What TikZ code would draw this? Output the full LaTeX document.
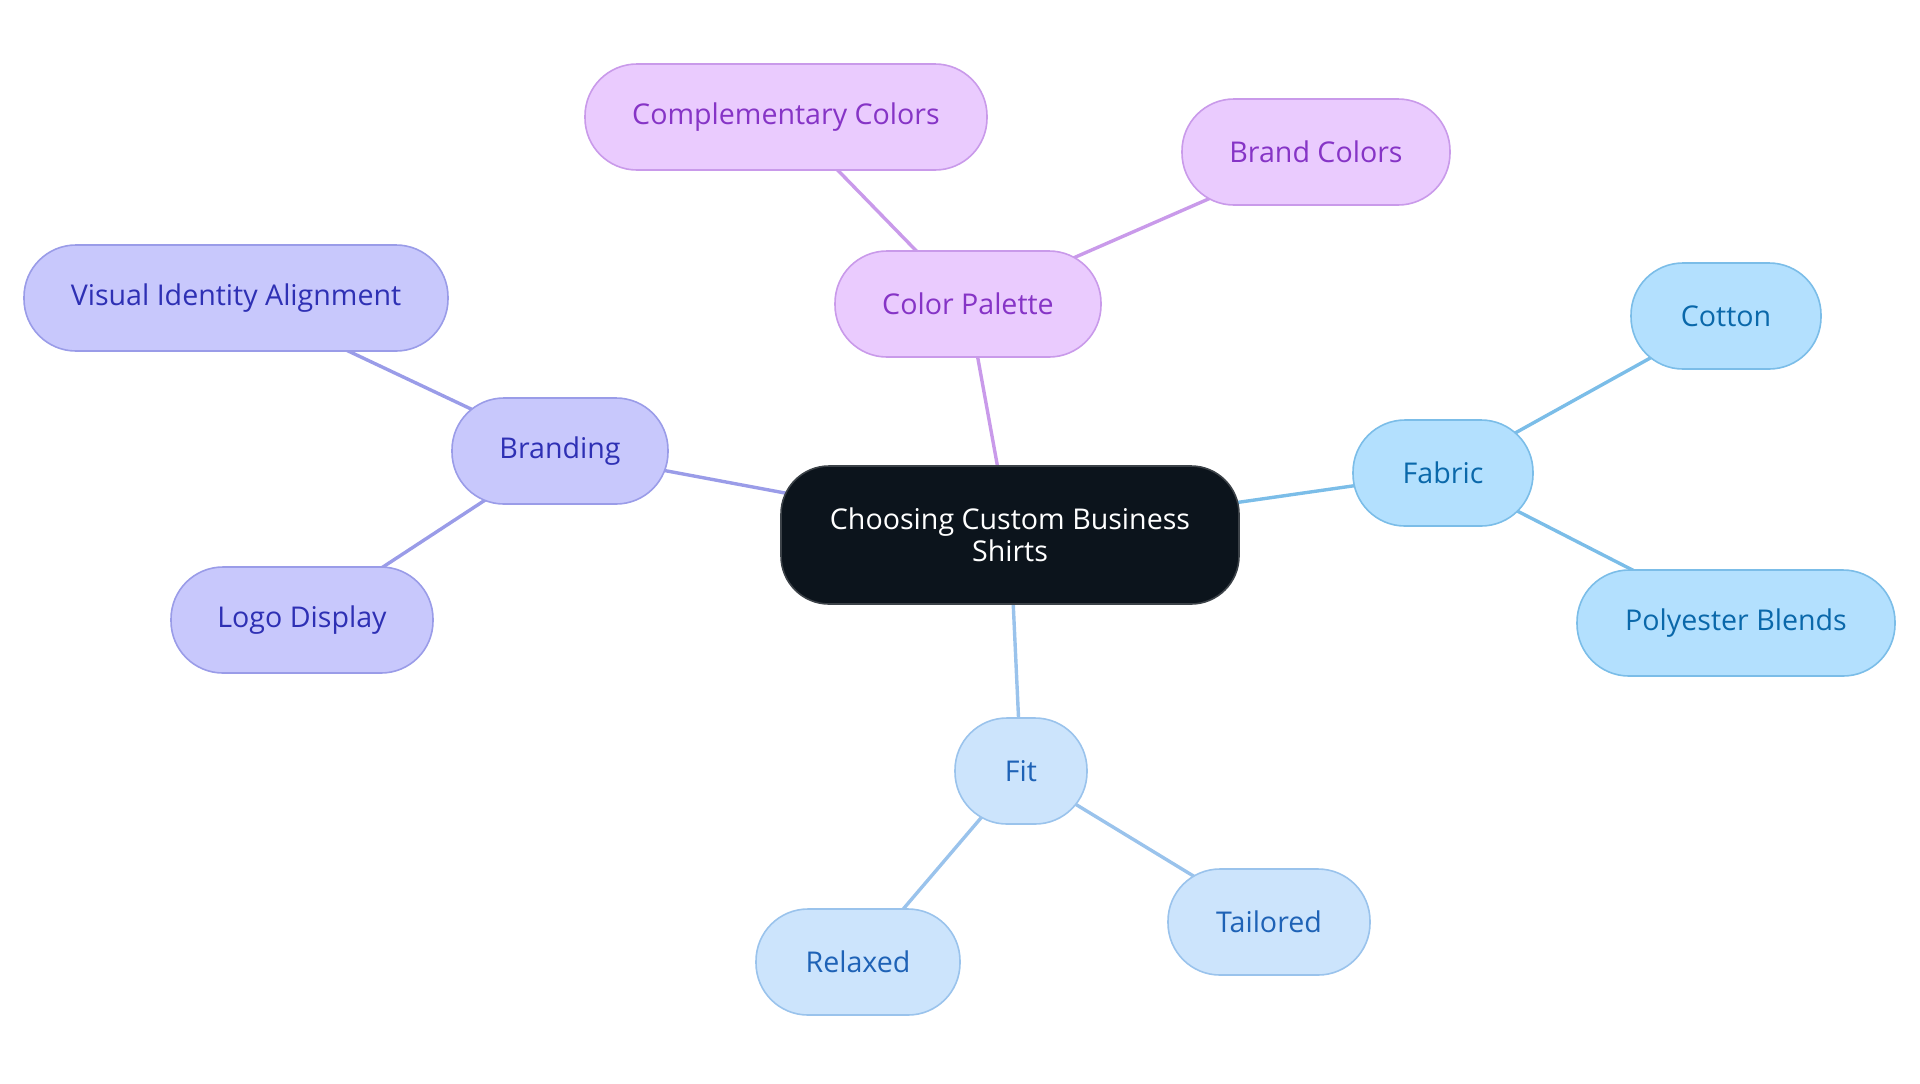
\documentclass[tikz,border=0pt]{standalone}
\usepackage{fontspec}
\setmainfont{Open Sans}
\usepackage{xcolor}
\usepackage{tikz}
\usetikzlibrary{backgrounds}

\definecolor{rootfill}{HTML}{0C141C}
\definecolor{rootline}{HTML}{3C4248}
\definecolor{brfill}{HTML}{C8C8FC}
\definecolor{brline}{HTML}{9A9CE8}
\definecolor{brtext}{HTML}{2E30B4}
\definecolor{cpfill}{HTML}{EACBFE}
\definecolor{cpline}{HTML}{C99AEA}
\definecolor{cptext}{HTML}{8634C6}
\definecolor{fbfill}{HTML}{B3E0FE}
\definecolor{fbline}{HTML}{7BBDE8}
\definecolor{fbtext}{HTML}{0A68AA}
\definecolor{ftfill}{HTML}{CCE4FC}
\definecolor{ftline}{HTML}{9AC3EC}
\definecolor{fttext}{HTML}{1E62B6}

\begin{document}
\begin{tikzpicture}[
  x=0.5pt, y=-0.5pt,
  leaf/.style={draw, line width=0.8pt, rectangle, rounded corners=26pt, minimum height=53pt, inner sep=0pt, font=\fontsize{14.3}{16}\selectfont, align=center},
  root/.style={leaf, fill=rootfill, draw=rootline, text=white, rounded corners=24pt, minimum height=69pt, minimum width=229pt},
  brand/.style={leaf, fill=brfill, draw=brline, text=brtext},
  palette/.style={leaf, fill=cpfill, draw=cpline, text=cptext},
  fabric/.style={leaf, fill=fbfill, draw=fbline, text=fbtext},
  fit/.style={leaf, fill=ftfill, draw=ftline, text=fttext},
  link/.style={line width=1.7pt}
]
\useasboundingbox (0,0) rectangle (1920,1083);

\node[root] (shirts) at (1010,535) {Choosing Custom Business\\Shirts};

\node[brand, minimum width=108pt] (branding) at (560,451) {Branding};
\node[brand, minimum width=212pt] (identity) at (236,298) {Visual Identity Alignment};
\node[brand, minimum width=131pt] (logo) at (302,620) {Logo Display};

\node[palette, minimum width=133pt] (palette) at (968,304) {Color Palette};
\node[palette, minimum width=201pt] (complementary) at (786,117) {Complementary Colors};
\node[palette, minimum width=134pt] (brandcol) at (1316,152) {Brand Colors};

\node[fabric, minimum width=90pt] (fabric) at (1443,473) {Fabric};
\node[fabric, minimum width=95pt] (cotton) at (1726,316) {Cotton};
\node[fabric, minimum width=159pt] (polyester) at (1736,623) {Polyester Blends};

\node[fit, minimum width=66pt] (fit) at (1021,771) {Fit};
\node[fit, minimum width=101pt] (tailored) at (1269,922) {Tailored};
\node[fit, minimum width=102pt] (relaxed) at (858,962) {Relaxed};

% connectors behind the boxes
\begin{scope}[on background layer]
\draw[link, brline] (shirts.center) -- (branding.center);
\draw[link, brline] (branding.center) -- (identity.center);
\draw[link, brline] (branding.center) -- (logo.center);
\draw[link, cpline] (shirts.center) -- (palette.center);
\draw[link, cpline] (palette.center) -- (complementary.center);
\draw[link, cpline] (palette.center) -- (brandcol.center);
\draw[link, fbline] (shirts.center) -- (fabric.center);
\draw[link, fbline] (fabric.center) -- (cotton.center);
\draw[link, fbline] (fabric.center) -- (polyester.center);
\draw[link, ftline] (shirts.center) -- (fit.center);
\draw[link, ftline] (fit.center) -- (tailored.center);
\draw[link, ftline] (fit.center) -- (relaxed.center);
\end{scope}
\end{tikzpicture}
\end{document}
